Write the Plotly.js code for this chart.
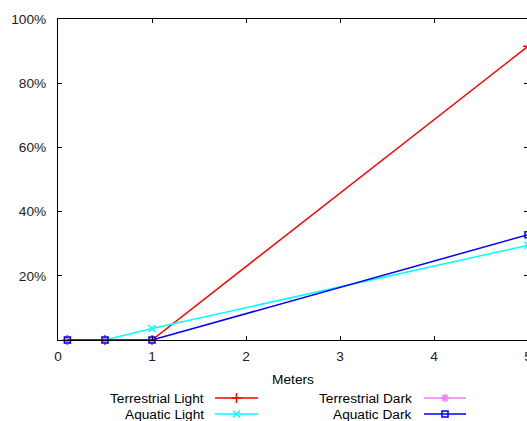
<!DOCTYPE html>
<html>
<head>
<meta charset="utf-8">
<script src="https://cdn.plot.ly/plotly-3.0.1.min.js"></script>
<style>
html,body{margin:0;padding:0;overflow:hidden;background:#fff;width:527px;height:421px;}
#chart{width:530px;height:421px;}
</style>
</head>
<body>
<div id="chart"></div>
<script>
// Data
const seriesNames = ["Terrestrial Light", "Aquatic Light", "Terrestrial Dark", "Aquatic Dark"];
const meters = [0.1, 0.5, 1, 5];
const terrestrialLight = [0, 0, 0, 91.5];
const aquaticLight = [0, 0, 3.6, 29.5];
const terrestrialDarkX = [0.1, 0.5, 1];
const terrestrialDark = [0, 0, 0];
const aquaticDark = [0, 0, 0, 32.8];
const xTicks = [0, 1, 2, 3, 4, 5];
const yTicks = [20, 40, 60, 80, 100];
const yTickLabels = ["20%", "40%", "60%", "80%", "100%"];

const colors = ["#ff0000", "#00ffff", "#ee82ee", "#0000ff"];
const symbols = ["cross-thin-open", "x-thin-open", "asterisk-open", "square-open"];
const sizes = [7, 7, 7, 6];
const FONT = "Liberation Sans, Arial, sans-serif";
const FS = 13.7;

const xs = [meters, meters, terrestrialDarkX, meters];
const ys = [terrestrialLight, aquaticLight, terrestrialDark, aquaticDark];

const traces = [];
for (let i = 0; i < 4; i++) {
  traces.push({
    x: xs[i], y: ys[i], type: "scatter", mode: "lines+markers",
    name: seriesNames[i], showlegend: false, cliponaxis: false,
    line: {color: colors[i], width: 1.5},
    marker: {symbol: symbols[i], size: sizes[i], color: colors[i], line: {color: colors[i], width: 1.5}}
  });
}

// Custom legend (gnuplot style: text right-aligned, sample to the right)
const legendTextX = [206, 206, 414, 414];
const legendLineX = [[215, 258], [215, 258], [424, 466], [424, 466]];
const legendRowY = [398, 414, 398, 414];
const annotations = [];
for (let i = 0; i < 4; i++) {
  const mid = (legendLineX[i][0] + legendLineX[i][1]) / 2;
  traces.push({
    x: legendLineX[i], y: [legendRowY[i], legendRowY[i]], xaxis: "x2", yaxis: "y2",
    type: "scatter", mode: "lines", showlegend: false, hoverinfo: "skip",
    line: {color: colors[i], width: 1.5}
  });
  traces.push({
    x: [mid], y: [legendRowY[i]], xaxis: "x2", yaxis: "y2",
    type: "scatter", mode: "markers", showlegend: false, hoverinfo: "skip",
    marker: {symbol: symbols[i], size: sizes[i], color: colors[i], line: {color: colors[i], width: 1.5}}
  });
  annotations.push({
    x: legendTextX[i], y: legendRowY[i], xref: "x2", yref: "y2",
    text: seriesNames[i], showarrow: false, xanchor: "right", yanchor: "middle",
    font: {family: FONT, size: FS, color: "#000"}
  });
}

const H = 421, T = 19;
const plotH = H - T;
const mainBottom = (H - 340) / plotH;
const legendTop = (H - 361) / plotH;

const layout = {
  width: 530, height: 421,
  margin: {l: 58, r: 2, t: T, b: 0},
  paper_bgcolor: "#fff", plot_bgcolor: "#fff",
  font: {family: FONT, size: FS, color: "#000"},
  showlegend: false,
  xaxis: {
    range: [0, 5], domain: [0, 1], anchor: "y",
    tickvals: xTicks, ticks: "inside", ticklen: 4, tickcolor: "#000",
    ticklabeloverflow: "allow", ticklabelstandoff: 4,
    tickfont: {family: FONT, size: FS, color: "#222"},
    showline: true, linecolor: "#000", linewidth: 1, mirror: "ticks",
    showgrid: false, zeroline: false,
    title: {text: "Meters", standoff: 10, font: {family: FONT, size: FS}}
  },
  yaxis: {
    range: [0, 100], domain: [mainBottom, 1], anchor: "x",
    tickvals: yTicks, ticktext: yTickLabels, ticks: "inside", ticklen: 4, tickcolor: "#000",
    ticklabelstandoff: 8,
    tickfont: {family: FONT, size: FS, color: "#222"},
    showline: true, linecolor: "#000", linewidth: 1, mirror: "ticks",
    showgrid: false, zeroline: false
  },
  xaxis2: {range: [58, 528], domain: [0, 1], anchor: "y2", visible: false, fixedrange: true},
  yaxis2: {range: [H, 361], domain: [0, legendTop], anchor: "x2", visible: false, fixedrange: true},
  annotations: annotations
};

Plotly.newPlot("chart", traces, layout, {displayModeBar: false, staticPlot: true});
</script>
</body>
</html>
